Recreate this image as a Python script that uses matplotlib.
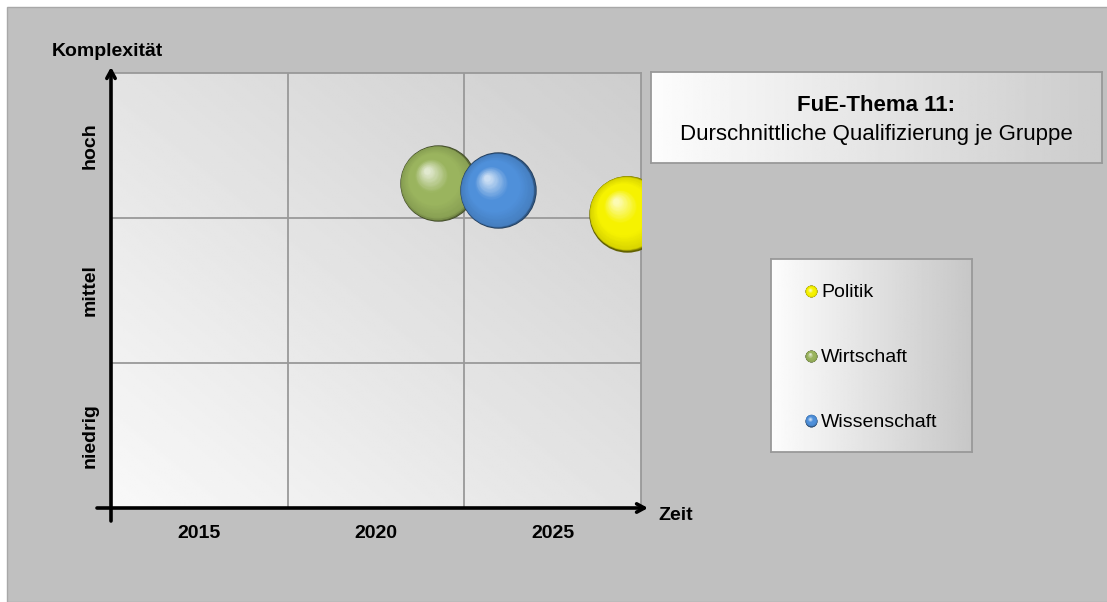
import numpy as np
import matplotlib
matplotlib.use("Agg")
import matplotlib.pyplot as plt
from matplotlib.transforms import offset_copy
from matplotlib.colors import to_rgb
from matplotlib.patches import Rectangle

plt.rcParams['font.family'] = ['Liberation Sans', 'DejaVu Sans']

# data
groups = ['Politik', 'Wirtschaft', 'Wissenschaft']
years = [2027.1, 2021.75, 2023.45]
levels = [2.03, 2.24, 2.19]
colors = ['#f6f200', '#9ab45e', '#4f90da']
year_ticks = [2015, 2020, 2025]
level_labels = ['niedrig', 'mittel', 'hoch']
title_lines = ['FuE-Thema 11:', 'Durschnittliche Qualifizierung je Gruppe']

W, H = 1107, 602


def sphere(ax, x, y, color, r, transform=None):
    # fake 3d ball: stacked discs moving toward an upper-left highlight
    base = np.array(to_rgb(color))
    dark = base * 0.4
    mid = base * 0.88
    light = base + (1 - base) * 0.7
    tr = transform or ax.transData
    n = 50
    for i in range(n):
        t = i / (n - 1)
        rad = r * (1 - 0.92 * t)
        if t < 0.05:
            c = dark + (mid - dark) * (t / 0.05)
        elif t < 0.35:
            c = mid + (base - mid) * ((t - 0.05) / 0.3)
        elif t < 0.6:
            c = base
        else:
            c = base + (light - base) * ((t - 0.6) / 0.4)
        off = offset_copy(tr, fig=ax.figure, x=-0.28 * r * t, y=0.32 * r * t, units='points')
        ax.scatter([x], [y], s=(2 * rad) ** 2, color=np.clip(c, 0, 1),
                   transform=off, linewidths=0, zorder=5)


fig = plt.figure(figsize=(W / 100, H / 100), dpi=100)
fig.patch.set_facecolor('white')
fig.patches.append(Rectangle((7 / W, 0), 1, 1 - 7 / H, transform=fig.transFigure,
                             facecolor='#c0c0c0', edgecolor='#a8a8a8', lw=1, zorder=-10))

# main chart
ax = fig.add_axes([111 / W, 1 - 508 / H, 530 / W, 435 / H])
xmin, xmax, ymin, ymax = 2012.5, 2027.5, 0, 3
u, w = np.meshgrid(np.linspace(0, 1, 200), np.linspace(0, 1, 200))
grad = 0.975 - 0.17 * (u + w) / 2
ax.imshow(grad, extent=[xmin, xmax, ymin, ymax], origin='lower', cmap='gray',
          vmin=0, vmax=1, aspect='auto', zorder=0)
ax.set_xlim(xmin, xmax)
ax.set_ylim(ymin, ymax)

ax.set_xticks(year_ticks, [str(v) for v in year_ticks], fontsize=14, fontweight='bold')
ax.set_yticks([0.5, 1.5, 2.5], level_labels, fontsize=14, fontweight='bold',
              rotation=90, va='center')
ax.set_xticks([2017.5, 2022.5], minor=True)
ax.set_yticks([1, 2], minor=True)
ax.tick_params(which='both', length=0)
ax.tick_params(axis='x', pad=12)
ax.tick_params(axis='y', pad=9)
ax.grid(which='minor', color='#999999', lw=1.3)
for s in ['top', 'right']:
    ax.spines[s].set_color('#999999')
    ax.spines[s].set_linewidth(1.3)
for s in ['left', 'bottom']:
    ax.spines[s].set_visible(False)

arrow = dict(arrowstyle='->,head_length=0.55,head_width=0.3', lw=2.6, color='black',
             shrinkA=0, shrinkB=0)
ax.annotate('', xy=(0, 1 + 6 / 435), xytext=(0, -13 / 435), xycoords='axes fraction',
            arrowprops=arrow, annotation_clip=False)
ax.annotate('', xy=(1 + 7 / 530, 0), xytext=(-14 / 530, 0), xycoords='axes fraction',
            arrowprops=arrow, annotation_clip=False)

for x, y, c in zip(years, levels, colors):
    sphere(ax, x, y, c, 27.5)

fig.text(52 / W, 1 - 52 / H, 'Komplexität', fontsize=14, fontweight='bold',
         ha='left', va='center')
fig.text(658 / W, 1 - 515 / H, 'Zeit', fontsize=14, fontweight='bold',
         ha='left', va='center')

# title box
tx = fig.add_axes([651 / W, 1 - 163 / H, 451 / W, 91 / H])
hg = np.linspace(0.99, 0.80, 200)[None, :]
tx.imshow(hg, extent=[0, 1, 0, 1], cmap='gray', vmin=0, vmax=1, aspect='auto')
tx.set_xlim(0, 1)
tx.set_ylim(0, 1)
tx.set_xticks([])
tx.set_yticks([])
for s in tx.spines.values():
    s.set_color('#999999')
    s.set_linewidth(1.3)
tx.text(0.5, 0.63, title_lines[0], fontsize=16, fontweight='bold', ha='center', va='center')
tx.text(0.5, 0.31, title_lines[1], fontsize=16, ha='center', va='center')

# legend box
lx = fig.add_axes([771 / W, 1 - 452 / H, 201 / W, 193 / H])
lg = np.linspace(0.99, 0.78, 200)[None, :]
lx.imshow(lg, extent=[0, 1, 0, 1], cmap='gray', vmin=0, vmax=1, aspect='auto')
lx.set_xlim(0, 1)
lx.set_ylim(0, 1)
lx.set_xticks([])
lx.set_yticks([])
for s in lx.spines.values():
    s.set_color('#999999')
    s.set_linewidth(1.3)
for i, (g, c) in enumerate(zip(groups, colors)):
    yy = 0.824 - i * 0.3345
    sphere(lx, 0.2, yy + 0.008, c, 4.3)
    lx.text(0.25, yy, g, fontsize=14, ha='left', va='center')

fig.savefig('out.png', dpi=100)
